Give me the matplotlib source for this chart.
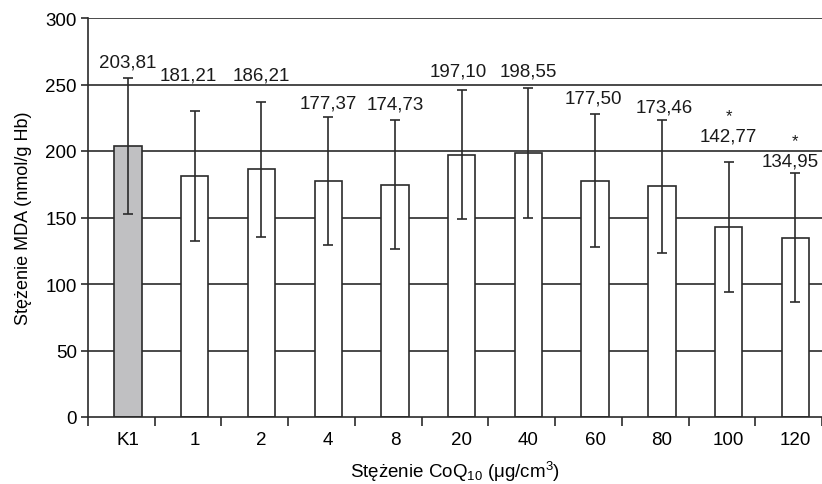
import numpy as np
import matplotlib
matplotlib.use('Agg')
import matplotlib.pyplot as plt

plt.rcParams['font.family'] = ['Liberation Sans', 'DejaVu Sans']
plt.rcParams['mathtext.fontset'] = 'custom'
plt.rcParams['mathtext.rm'] = 'Liberation Sans'
plt.rcParams['mathtext.default'] = 'regular'

categories = ['K1', '1', '2', '4', '8', '20', '40', '60', '80', '100', '120']
mda = [203.81, 181.21, 186.21, 177.37, 174.73, 197.10, 198.55, 177.50, 173.46, 142.77, 134.95]
sd = [51.4, 48.6, 51.0, 48.0, 48.6, 48.6, 48.6, 50.0, 50.0, 48.6, 48.6]
labels = ['203,81', '181,21', '186,21', '177,37', '174,73', '197,10', '198,55',
          '177,50', '173,46', '142,77', '134,95']
significant = [False, False, False, False, False, False, False, False, False, True, True]
label_y = [267, 257, 257, 236, 235, 260, 260, 239.5, 233, 211, 192.5]
label_dx = [0, -0.1, 0, 0, 0, -0.05, 0, -0.03, 0.03, 0, -0.07]

dark = '#2b2b2b'
fig = plt.figure(figsize=(8.22, 4.85), dpi=100)
ax = fig.add_axes([88 / 822, 67 / 485, 734 / 822, 399 / 485])

x = np.arange(len(categories)) + 0.1
colors = ['#c0c0c2'] + ['white'] * (len(categories) - 1)

for yv in range(50, 301, 50):
    ax.axhline(yv, color=dark, lw=1.2, zorder=1)

ax.bar(x, mda, width=0.41, color=colors, edgecolor=dark, linewidth=1.2, zorder=2)
ax.errorbar(x, mda, yerr=sd, fmt='none', ecolor=dark, elinewidth=1.2,
            capsize=3.6, capthick=1.2, zorder=3)

for xi, dx, lab, ly, sig in zip(x, label_dx, labels, label_y, significant):
    ax.text(xi + dx, ly, lab, ha='center', va='center', fontsize=13.5, color='#1a1a1a')
    if sig:
        ax.text(xi, ly + 15.5, '*', ha='center', va='center', fontsize=12, color='#1a1a1a')

ax.set_xlim(-0.5, len(categories) - 0.5)
ax.set_ylim(0, 300)
ax.set_yticks(range(0, 301, 50))
ax.set_xticks(np.arange(len(categories) + 1) - 0.5, minor=False)
ax.set_xticklabels([])
ax.set_xticks(x, minor=True)
ax.set_xticklabels(categories, minor=True)
ax.tick_params(axis='x', which='major', length=6.5, width=1.2, color=dark, direction='out')
ax.tick_params(axis='x', which='minor', length=0, labelsize=13.5, pad=10)
ax.tick_params(axis='y', length=5, width=1.2, color=dark, labelsize=13.5, pad=3)

for side in ['top', 'right']:
    ax.spines[side].set_visible(False)
for side in ['left', 'bottom']:
    ax.spines[side].set_color(dark)
    ax.spines[side].set_linewidth(1.2)

ax.set_xlabel('Stężenie CoQ$_{10}$ (μg/cm$^3$)', fontsize=13.5, labelpad=8)
ax.set_ylabel('Stężenie MDA (nmol/g Hb)', fontsize=13, labelpad=10)

fig.savefig('out.png', dpi=100)
